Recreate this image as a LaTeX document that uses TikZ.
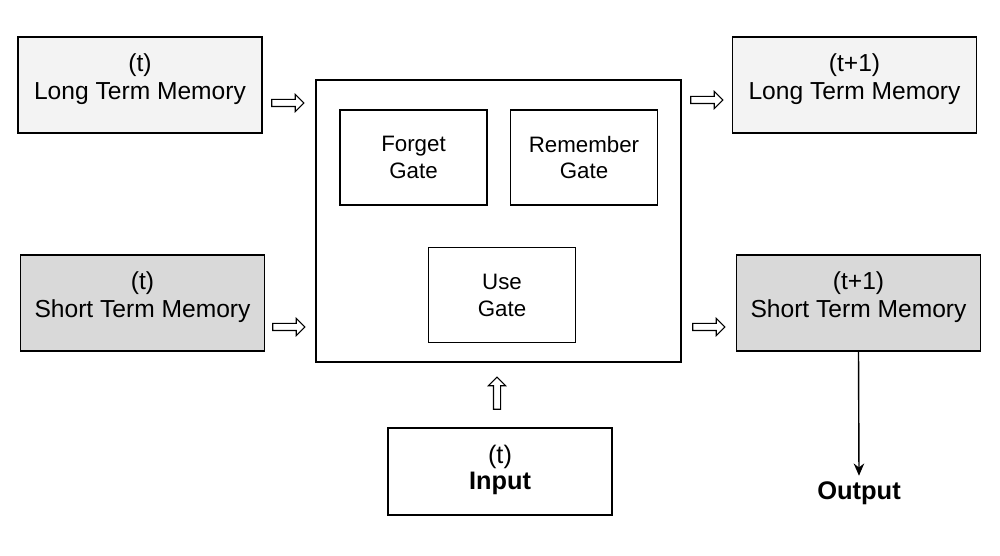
\documentclass[tikz,border=0pt]{standalone}
\usepackage{fontspec}
\setmainfont{Liberation Sans}
\usetikzlibrary{arrows.meta,shapes.arrows}
\usepackage{xcolor}
\definecolor{longfill}{HTML}{F3F3F3}
\definecolor{shortfill}{HTML}{D9D9D9}

\tikzset{
	box/.style={draw,line width=1.1pt,rectangle,inner sep=0pt,align=center},
	memory/.style={box,minimum width=4.88cm,minimum height=1.92cm,text depth=9.7pt,font=\fontsize{14}{16}\selectfont},
	gate/.style={box,minimum width=2.94cm,minimum height=1.9cm,font=\fontsize{12.7}{15.3}\selectfont},
	hollow/.style={single arrow,draw,line width=0.6pt,inner xsep=0pt,inner ysep=0.06cm,minimum height=0.64cm,single arrow head extend=0.1cm},
}

\begin{document}
\begin{tikzpicture}
				\useasboundingbox (0,0) rectangle (20,-11.12);
				% memories at time t
				\node(ltm0) at (2.8,-1.7)[memory,fill=longfill]{(t)\\Long Term Memory};
				\node(stm0) at (2.85,-6.06)[memory,fill=shortfill]{(t)\\Short Term Memory};
				% the cell and its gates
				\node(cell) at (9.97,-4.42)[box,minimum width=7.3cm,minimum height=5.64cm]{};
				\node(forget) at (8.27,-3.15)[gate]{Forget\\Gate};
				\node(remember) at (11.68,-3.15)[gate]{Remember\\Gate};
				\node(use) at (10.04,-5.9)[gate]{Use\\Gate};
				% input
				\node(input) at (10,-9.43)[box,minimum width=4.48cm,minimum height=1.74cm,text depth=5pt,font=\fontsize{14.4}{14.7}\selectfont]{(t)\\\textbf{Input}};
				% memories at time t+1
				\node(ltm1) at (17.09,-1.7)[memory,fill=longfill]{(t+1)\\Long Term Memory};
				\node(stm1) at (17.17,-6.06)[memory,fill=shortfill]{(t+1)\\Short Term Memory};
				\node(output) at (17.18,-9.87)[font=\fontsize{14.5}{15}\selectfont\bfseries]{Output};
				
				\node(a1) at (5.72,-2.06)[hollow]{};
				\node(a2) at (5.74,-6.54)[hollow]{};
				\node(a3) at (14.1,-2.0)[hollow]{};
				\node(a4) at (14.14,-6.54)[hollow]{};
				\node(a5) at (9.94,-7.9)[hollow,rotate=90]{};
				
				\draw[line width=0.8pt,-{Stealth[length=7pt,width=6pt]}] (stm1.south) -- (output.north);
			\end{tikzpicture}
\end{document}
